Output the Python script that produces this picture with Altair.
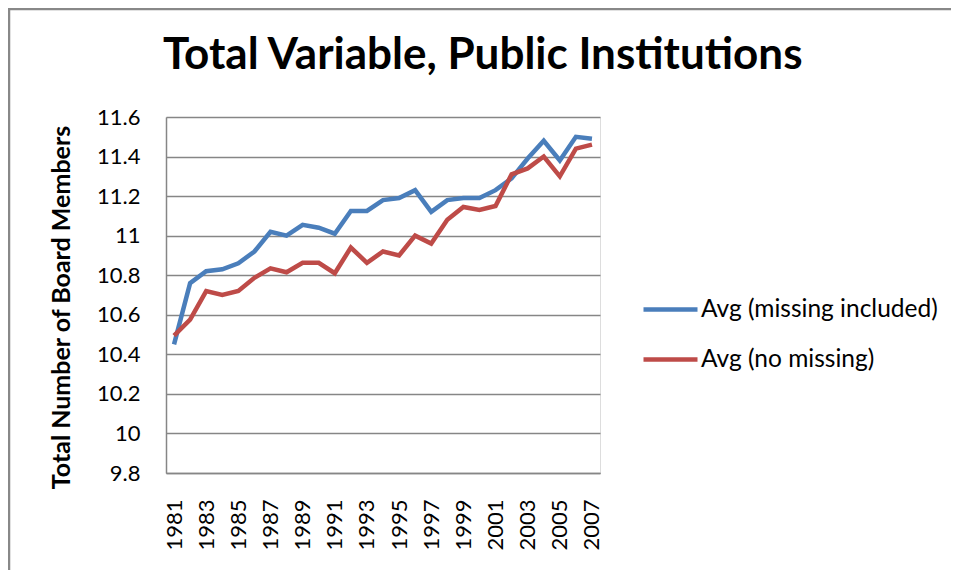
import altair as alt
import pandas as pd

years = [str(y) for y in range(1981, 2008)]
series_names = ["Avg (missing included)", "Avg (no missing)"]
avg_missing_included = [10.45, 10.76, 10.82, 10.83, 10.86, 10.92, 11.02, 11.00, 11.055, 11.04,
                        11.01, 11.125, 11.125, 11.18, 11.19, 11.23, 11.12, 11.18, 11.19, 11.19,
                        11.23, 11.29, 11.39, 11.48, 11.38, 11.50, 11.49]
avg_no_missing = [10.495, 10.576, 10.72, 10.70, 10.72, 10.787, 10.835, 10.815, 10.863, 10.863,
                  10.81, 10.94, 10.863, 10.92, 10.90, 11.00, 10.96, 11.08, 11.145, 11.13,
                  11.15, 11.31, 11.34, 11.40, 11.30, 11.44, 11.46]
y_ticks = [9.8, 10.0, 10.2, 10.4, 10.6, 10.8, 11.0, 11.2, 11.4, 11.6]
x_label_years = years[::2]
colors = ["#4A7EBB", "#BE4B48"]
title_text = "Total Variable, Public Institutions"

rows = []
for name, vals in zip(series_names, [avg_missing_included, avg_no_missing]):
    for yr, v in zip(years, vals):
        rows.append({"Year": yr, "Value": v, "Series": name})
df = pd.DataFrame(rows)

FONT = "Lato"
GRID = "#868686"

lines = alt.Chart(df).mark_line(strokeWidth=4.5).encode(
    x=alt.X("Year:O", sort=years,
            scale=alt.Scale(paddingInner=0, paddingOuter=0),
            axis=alt.Axis(values=x_label_years, labelAngle=-90, ticks=False,
                          labelPadding=26, labelFontSize=22, labelFont=FONT,
                          labelColor="#000000", domainColor=GRID, domainWidth=1.5,
                          grid=False, title=None)),
    y=alt.Y("Value:Q", scale=alt.Scale(domain=[9.8, 11.6], nice=False, zero=False),
            axis=alt.Axis(values=y_ticks, labelExpr="format(datum.value, '~g')",
                          ticks=False, labelPadding=26, labelFontSize=22, labelFont=FONT,
                          labelColor="#000000", domainColor=GRID, domainWidth=1.5,
                          grid=True, gridColor=GRID, gridWidth=1.3,
                          title="Total Number of Board Members", titleFont=FONT,
                          titleFontSize=25, titleFontWeight="bold", titleColor="#000000",
                          titleX=-105, titleY=190, titleAngle=270, titleAlign="center",
                          titleBaseline="middle")),
    color=alt.Color("Series:N", scale=alt.Scale(domain=series_names, range=colors),
                    legend=alt.Legend(title=None, orient="none", legendX=475, legendY=163,
                                      symbolType="stroke", symbolSize=2916,
                                      symbolStrokeWidth=4.5, labelFont=FONT,
                                      labelFontSize=24.5, labelColor="#000000",
                                      labelOffset=1, rowPadding=9, labelLimit=0)),
)

single = pd.DataFrame({"k": [0]})
left_border = alt.Chart(single).mark_rule(color="#888888", strokeWidth=2.5).encode(
    x=alt.value(-157), y=alt.value(-108), y2=alt.value(470))
top_border = alt.Chart(single).mark_rule(color="#888888", strokeWidth=2.5).encode(
    x=alt.value(-158), x2=alt.value(800), y=alt.value(-108))
title = alt.Chart(single).mark_text(font=FONT, fontSize=44, fontWeight="bold",
                                    color="#000000", align="left",
                                    baseline="alphabetic").encode(
    text=alt.value(title_text), x=alt.value(-3), y=alt.value(-48))

chart = alt.layer(lines, left_border, top_border, title).properties(
    width=434, height=356,
    autosize=alt.AutoSizeParams(type="none"),
    padding={"left": 158, "top": 109, "right": 351, "bottom": 97},
).configure_view(stroke=None).configure(background="white")

chart.save("out.html", embed_options={"renderer": "svg", "actions": False})
